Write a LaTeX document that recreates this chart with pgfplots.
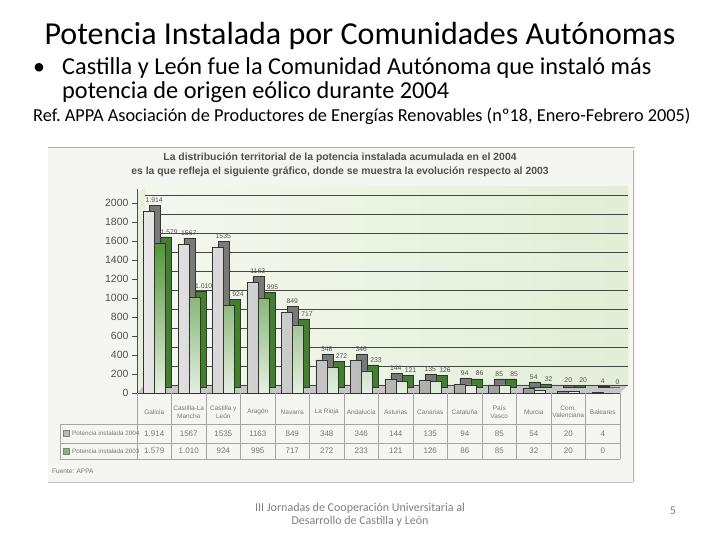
\documentclass[border=0pt]{standalone}
\usepackage{pgfplots}
\usepackage{pgfplotstable}
\pgfplotsset{compat=1.18}
\usepackage{fontspec}
\setmainfont{Carlito}
\newfontfamily\arialf{Liberation Sans}
\definecolor{gFront}{RGB}{140,142,140}
\definecolor{gDepth}{RGB}{120,122,120}
\definecolor{vFront}{RGB}{82,150,58}
\definecolor{vDepth}{RGB}{66,128,46}
\definecolor{chartbg}{RGB}{245,246,241}
\definecolor{wallbg}{RGB}{226,238,214}
\definecolor{txtgray}{RGB}{80,80,80}
\definecolor{tblgray}{RGB}{120,120,120}

\pgfplotstableread{
x y lab
0 1914 1.914
1 1567 1567
2 1535 1535
3 1163 1163
4 849 849
5 348 348
6 346 346
7 144 144
8 135 135
9 94 94
10 85 85
11 54 54
12 20 20
13 4 4
}\dataA
\pgfplotstableread{
x y lab
0 1579 1.579
1 1010 1.010
2 924 924
3 995 995
4 717 717
5 272 272
6 233 233
7 121 121
8 126 126
9 86 86
10 85 85
11 32 32
12 20 20
13 0 0
}\dataB

\begin{document}
\begin{tikzpicture}[x=1pt,y=1pt]
\useasboundingbox (0,0) rectangle (720,540);
\fill[white] (0,0) rectangle (720,540);
% slide text
\node[anchor=base, font=\fontsize{32}{32}\selectfont, inner sep=0] at (360,495) {Potencia Instalada por Comunidades Autónomas};
\node[anchor=base west, font=\fontsize{24}{24}\selectfont, inner sep=0] at (33,465) {•};
\node[anchor=base west, font=\fontsize{24.3}{24}\selectfont, inner sep=0] at (62,465) {Castilla y León fue la Comunidad Autónoma que instaló más};
\node[anchor=base west, font=\fontsize{24.3}{24}\selectfont, inner sep=0] at (62,441) {potencia de origen eólico durante 2004};
\node[anchor=base west, font=\fontsize{18.3}{18}\selectfont, inner sep=0] at (33,418) {Ref.\ APPA Asociación de Productores de Energías Renovables (nº18, Enero-Febrero 2005)};
% footer
\node[anchor=base, font=\fontsize{12}{12}\selectfont, text=gray, inner sep=0] at (360,28) {III Jornadas de Cooperación Universitaria al};
\node[anchor=base, font=\fontsize{12}{12}\selectfont, text=gray, inner sep=0] at (360,15) {Desarrollo de Castilla y León};
\node[anchor=base, font=\fontsize{12}{12}\selectfont, text=gray, inner sep=0] at (673,25) {5};
% chart image background
\fill[chartbg] (48,58) rectangle (635,393);
\draw[gray!60, line width=0.8pt] (48,393) -- (635,393);
\draw[gray!60] (633,58) -- (633,390);
\draw[gray!50] (48,58) -- (633,58);
% chart title
\node[anchor=base, font=\arialf\bfseries\fontsize{10.4}{10.4}\selectfont, text=txtgray, inner sep=0] at (340,379) {La distribución territorial de la potencia instalada acumulada en el 2004};
\node[anchor=base, font=\arialf\bfseries\fontsize{10.4}{10.4}\selectfont, text=txtgray, inner sep=0] at (340,365) {es la que refleja el siguiente gráfico, donde se muestra la evolución respecto al 2003};
% 3D walls
\shade[left color=white!60!wallbg, right color=wallbg] (145,155) rectangle (628,353);
\fill[wallbg!80!white] (137,147) -- (145,155) -- (145,353) -- (137,345) -- cycle;
\fill[gray!45] (137,147) -- (620,147) -- (628,155) -- (145,155) -- cycle;
\begin{axis}[
  at={(137pt,147pt)}, anchor=south west, scale only axis,
  width=483pt, height=204.25pt,
  xmin=-0.5, xmax=13.5, ymin=0, ymax=2150,
  axis lines=left, axis line style={-, draw=gray!60!black, line width=0.6pt},
  ytick={0,200,...,2000}, xtick={0,...,13},
  xticklabels={Galicia,{Castilla-La\\Mancha},{Castilla y\\León},Aragón,Navarra,La Rioja,Andalucía,Asturias,Canarias,Cataluña,{País\\Vasco},Murcia,{Com.\\Valenciana},Baleares},
  /pgf/number format/assume math mode=true,
  /pgf/number format/1000 sep={},
  tick align=outside, major tick length=5pt,
  xtick style={draw=none},
  ytick style={draw=gray!60!black},
  yticklabel style={font=\arialf\fontsize{10.5}{10.5}\selectfont, text=txtgray},
  xticklabel style={font=\arialf\fontsize{6.5}{7.5}\selectfont, text=tblgray, align=center, anchor=center, yshift=-14pt},
  ymajorgrids, grid style={draw=gray!55!black, line width=0.5pt, xshift=8pt, yshift=8pt},
  clip=false,
  bar width=11pt,
]
\addplot[ybar, bar shift=-5.5pt, draw=gray!40!black, line width=0.3pt, fill=gDepth, xshift=6pt, yshift=6pt]
  table[x=x,y=y]{\dataA};
\addplot[ybar, bar shift=-5.5pt, draw=gray!40!black, line width=0.3pt, left color=gray!20, right color=gFront]
  table[x=x,y=y]{\dataA};
\addplot[ybar, bar shift=5.5pt, draw=gray!40!black, line width=0.3pt, fill=vDepth, xshift=6pt, yshift=6pt]
  table[x=x,y=y]{\dataB};
\addplot[ybar, bar shift=5.5pt, draw=gray!40!black, line width=0.3pt, top color=vFront, bottom color=white!85!vFront]
  table[x=x,y=y]{\dataB};
% value labels
\addplot[only marks, mark=none, point meta=explicit symbolic, nodes near coords,
  nodes near coords style={font=\arialf\fontsize{6.8}{6.8}\selectfont, text=txtgray, anchor=south, inner sep=0.5pt}]
  table[x=x, y expr=\thisrow{y}+85, meta=lab]{\dataA};
\addplot[only marks, mark=none, point meta=explicit symbolic, nodes near coords,
  nodes near coords style={font=\arialf\fontsize{6.8}{6.8}\selectfont, text=txtgray, anchor=south, inner sep=0.5pt}]
  table[x expr=\thisrow{x}+0.43, y expr=\thisrow{y}+85, meta=lab]{\dataB};
\end{axis}
% data table
\foreach \i in {0,...,14} {\draw[gray!70, line width=0.4pt] ({137+34.5*\i},147) -- ({137+34.5*\i},81);}
\draw[gray!70, line width=0.4pt] (60,116) -- (60,81);
\foreach \yy in {116,97,81} {\draw[gray!70, line width=0.4pt] (60,\yy) -- (620,\yy);}
\foreach \v [count=\i from 0] in {1.914,1567,1535,1163,849,348,346,144,135,94,85,54,20,4}
  {\node[font=\arialf\fontsize{8}{8}\selectfont, text=tblgray] at ({154.25+34.5*\i},106.5) {\v};}
\foreach \v [count=\i from 0] in {1.579,1.010,924,995,717,272,233,121,126,86,85,32,20,0}
  {\node[font=\arialf\fontsize{8}{8}\selectfont, text=tblgray] at ({154.25+34.5*\i},89) {\v};}
\filldraw[fill=gray!55, draw=gray] (63,103.5) rectangle (69,109.5);
\filldraw[fill=vFront!70, draw=gray] (63,86) rectangle (69,92);
\node[anchor=west, font=\arialf\fontsize{6.3}{6.3}\selectfont, text=tblgray, inner sep=0] at (72,106.5) {Potencia instalada 2004};
\node[anchor=west, font=\arialf\fontsize{6.3}{6.3}\selectfont, text=tblgray, inner sep=0] at (72,89) {Potencia instalada 2003};
\node[anchor=base west, font=\arialf\fontsize{6.5}{6.5}\selectfont, text=tblgray, inner sep=0] at (52,66) {Fuente: APPA};
\end{tikzpicture}
\end{document}
